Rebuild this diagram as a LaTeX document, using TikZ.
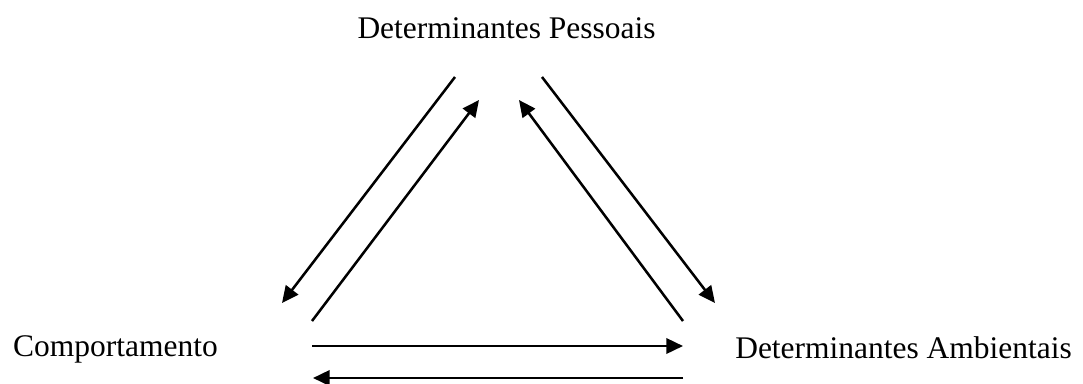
\documentclass[tikz,border=0pt]{standalone}
\usepackage{fontspec}
\setmainfont{Liberation Serif}
\usetikzlibrary{arrows.meta}

\tikzset{
  dtlabel/.style={inner sep=0pt, anchor=base, font=\fontsize{23.6}{28}\selectfont},
  dtarrow/.style={line width=1.9pt, -{Triangle[length=12.5pt, width=11.5pt]}}
}

\begin{document}
\begin{tikzpicture}[x=0.75pt, y=-0.75pt]
\useasboundingbox (0,0) rectangle (1083,383);

\node[dtlabel] (pes) at (506.5,38) {Determinantes Pessoais};
\node[dtlabel] (com) at (115.5,356) {Comportamento};
\node[dtlabel] (amb) at (903.5,358) {Determinantes Ambientais};

\coordinate (pesLo) at (455,77);
\coordinate (pesLi) at (479,100);
\coordinate (pesRi) at (519,100);
\coordinate (pesRo) at (542,77);

\coordinate (comUo) at (282,303);
\coordinate (comUi) at (312,321);
\coordinate (comHa) at (312,346);
\coordinate (comHb) at (313,378);

\coordinate (ambUi) at (683,321);
\coordinate (ambUo) at (715,303);
\coordinate (ambHa) at (683,346);
\coordinate (ambHb) at (683,378);

\draw[dtarrow] (pesLo) -- (comUo);
\draw[dtarrow] (comUi) -- (pesLi);
\draw[dtarrow] (ambUi) -- (pesRi);
\draw[dtarrow] (pesRo) -- (ambUo);

\draw[dtarrow] (comHa) -- (ambHa);
\draw[dtarrow] (ambHb) -- (comHb);
\end{tikzpicture}
\end{document}
